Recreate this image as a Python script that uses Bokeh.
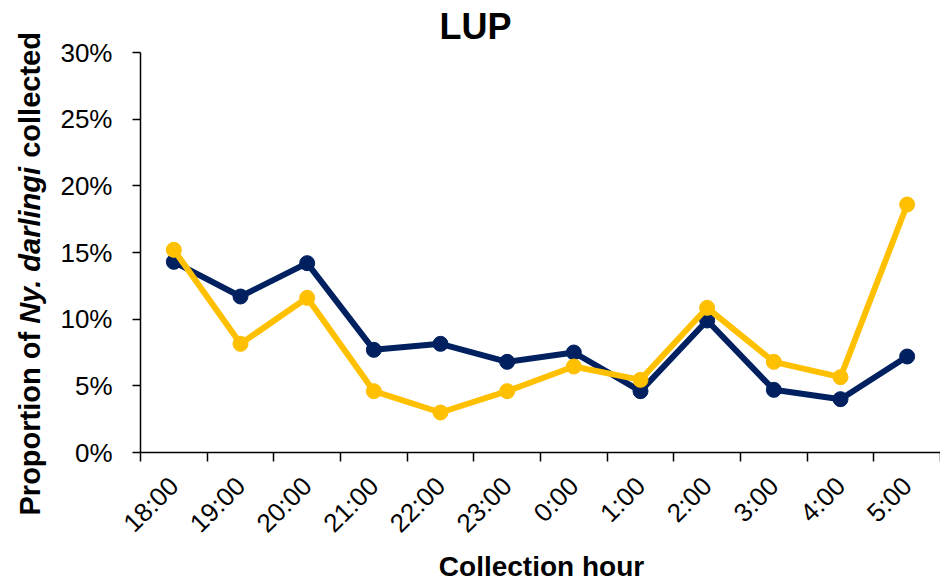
import math
from bokeh.plotting import figure
from bokeh.models import LinearAxis, FixedTicker, NumeralTickFormatter, Label, Range1d
from bokeh.embed import file_html
from bokeh.resources import INLINE

# ---- data ----
hours = ["18:00", "19:00", "20:00", "21:00", "22:00", "23:00",
         "0:00", "1:00", "2:00", "3:00", "4:00", "5:00"]
series_navy = [14.3, 11.7, 14.2, 7.7, 8.15, 6.8, 7.5, 4.6, 9.9, 4.7, 4.0, 7.2]
series_gold = [15.2, 8.15, 11.6, 4.6, 3.0, 4.6, 6.45, 5.45, 10.85, 6.8, 5.65, 18.6]
y_ticks = [0, 0.05, 0.10, 0.15, 0.20, 0.25, 0.30]
y_max = 0.30
title_text = "LUP"
x_title = "Collection hour"
y_title_parts = ["Proportion of", "Ny. darlingi", "collected"]

FONT = "Liberation Sans"
NAVY = "#002060"
GOLD = "#FFC000"

# ---- layout (pixels) ----
W, H = 940, 587
AX_LEFT, AX_RIGHT = 140, 940      # plot area horizontally
AX_TOP, AX_BOTTOM = 52, 452       # plot area vertically
n = len(hours)
px_x = n / (AX_RIGHT - AX_LEFT)
px_y = y_max / (AX_BOTTOM - AX_TOP)
SHIFT = 12                        # label baseline compensation (px)

x_range = Range1d(-AX_LEFT * px_x, (W - AX_LEFT) * px_x)
y_range = Range1d(-(H - AX_BOTTOM) * px_y, AX_BOTTOM * px_y)

p = figure(width=W, height=H, output_backend="svg", toolbar_location=None,
           title=None, x_axis_type=None, y_axis_type=None,
           x_range=x_range, y_range=y_range,
           min_border=0, min_border_left=0, min_border_right=0,
           min_border_top=0, min_border_bottom=0)
p.outline_line_color = None
p.xgrid.visible = False
p.ygrid.visible = False
p.background_fill_color = "white"
p.border_fill_color = "white"

xs = [i + 0.5 for i in range(n)]

# x axis: labels at category centres, tick marks at boundaries (minor ticks)
xaxis = LinearAxis(ticker=FixedTicker(ticks=xs, minor_ticks=list(range(n + 1))),
                   fixed_location=0, bounds=(0, n))
xaxis.major_label_overrides = {x: h for x, h in zip(xs, hours)}
xaxis.major_tick_out = 0
xaxis.major_tick_in = 0
xaxis.minor_tick_out = 9
xaxis.minor_tick_in = 0
xaxis.minor_tick_line_color = "black"
xaxis.minor_tick_line_width = 1.5
xaxis.axis_line_color = "black"
xaxis.axis_line_width = 1.5
xaxis.major_label_orientation = math.pi / 4
xaxis.major_label_text_font = FONT
xaxis.major_label_text_font_size = "26px"
xaxis.major_label_text_color = "black"
xaxis.major_label_standoff = 20
p.add_layout(xaxis, "below")

yaxis = LinearAxis(ticker=FixedTicker(ticks=y_ticks, minor_ticks=[]),
                   formatter=NumeralTickFormatter(format="0%"),
                   fixed_location=0, bounds=(0, y_max))
yaxis.major_tick_out = 8
yaxis.major_tick_in = 0
yaxis.major_tick_line_color = "black"
yaxis.major_tick_line_width = 1.5
yaxis.axis_line_color = "black"
yaxis.axis_line_width = 1.5
yaxis.major_label_text_font = FONT
yaxis.major_label_text_font_size = "26px"
yaxis.major_label_text_color = "black"
yaxis.major_label_standoff = 20
p.add_layout(yaxis, "left")

navy_y = [v / 100 for v in series_navy]
gold_y = [v / 100 for v in series_gold]

p.line(xs, navy_y, line_color=NAVY, line_width=6)
p.scatter(xs, navy_y, size=15, fill_color=NAVY, line_color=NAVY)
p.line(xs, gold_y, line_color=GOLD, line_width=6)
p.scatter(xs, gold_y, size=15, fill_color=GOLD, line_color=GOLD)


def dx(sx):
    return (sx - AX_LEFT) * px_x


def dy(sy):
    return (AX_BOTTOM - sy) * px_y


# title
p.add_layout(Label(x=dx(475), y=dy(38 - SHIFT), text=title_text,
                   text_font=FONT, text_font_size="36px", text_font_style="bold",
                   text_align="center", text_baseline="alphabetic", text_color="black"))

# x axis title
p.add_layout(Label(x=dx(541), y=dy(578 - SHIFT), text=x_title,
                   text_font=FONT, text_font_size="28px", text_font_style="bold",
                   text_align="center", text_baseline="alphabetic", text_color="black"))

# y axis title in three runs (bold, bold italic, bold)
fs = 29
em_adv = [6.611, 5.446 + 0.278]  # advance (in em) including the following space
styles = ["bold", "bold italic", "bold"]
offset_px = 0.0
for i, (part, style) in enumerate(zip(y_title_parts, styles)):
    p.add_layout(Label(x=dx(41 - SHIFT), y=dy(515 - offset_px),
                       text=part, angle=math.pi / 2,
                       text_font=FONT, text_font_size=f"{fs}px", text_font_style=style,
                       text_align="left", text_baseline="alphabetic", text_color="black"))
    if i < 2:
        offset_px += em_adv[i] * fs

open("out.html", "w").write(file_html(p, INLINE))
